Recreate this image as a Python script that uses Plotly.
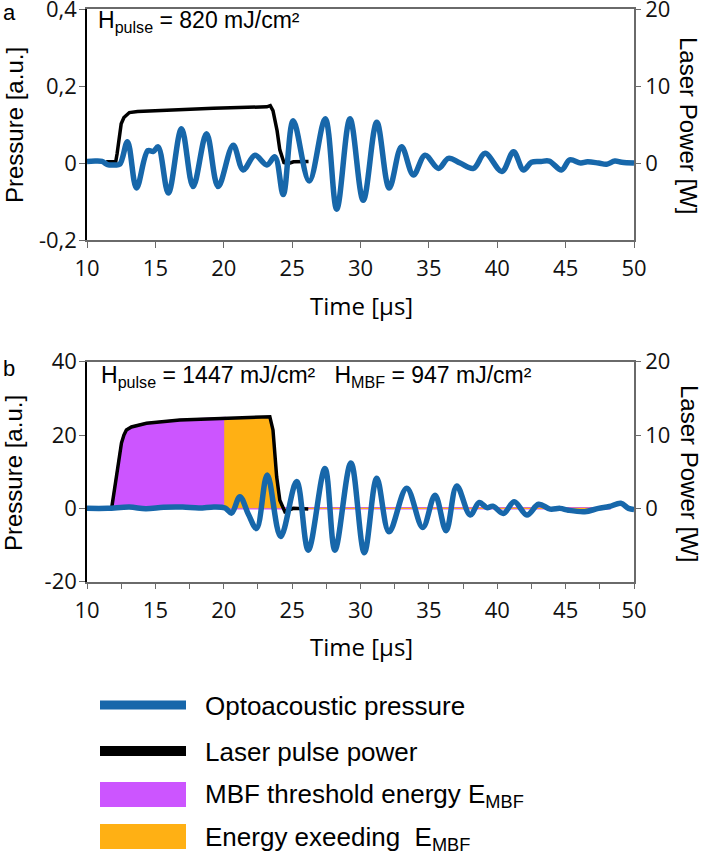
import plotly.graph_objects as go

W, H = 702, 854

# ---------------- data ----------------
# Panel a: optoacoustic pressure [a.u.] vs time [us]
time_a = [10.0, 10.6, 11.1, 11.5, 12.0, 12.4, 12.96, 13.62, 14.45, 14.85, 15.2, 15.95,
          16.91, 17.76, 18.74, 19.59, 20.69, 21.42, 22.28, 23.15, 23.74, 24.35, 25.08,
          26.25, 27.42, 28.26, 29.23, 30.2, 31.19, 32.1, 33.0, 33.87, 34.72, 35.7, 36.43,
          37.28, 38.26, 39.11, 40.34, 41.19, 41.92, 42.5, 43.2, 43.8, 44.7, 45.3, 46.1,
          46.6, 47.4, 48.0, 48.6, 49.1, 50.0]
pressure_a = [0.004, 0.005, 0.004, -0.004, -0.005, -0.003, 0.055, -0.065, 0.032, 0.03, 0.042,
              -0.078, 0.089, -0.061, 0.076, -0.061, 0.046, -0.018, 0.02, -0.005, 0.016,
              -0.082, 0.11, -0.047, 0.115, -0.12, 0.115, -0.097, 0.106, -0.065, 0.042,
              -0.031, 0.02, -0.014, 0.012, 0.0, -0.014, 0.025, -0.022, 0.029, -0.018, 0.002,
              0.004, 0.005, -0.018, 0.008, 0.0, 0.003, 0.0, -0.003, 0.005, 0.002, 0.0]

# Panel a: laser pulse power [W]
laser_time_a = [11.4, 12.1, 12.2, 12.35, 12.5, 12.7, 12.9, 13.1, 13.7, 16.8, 19.25, 23.15,
                23.4, 23.6, 23.9, 24.1, 24.4, 24.7, 25.1, 26.2]
laser_power_a = [0.15, 0.15, 1.2, 3.4, 5.1, 5.9, 6.3, 6.55, 6.7, 6.95, 7.1, 7.3,
                 7.45, 6.8, 4.2, 1.7, 0.05, -0.1, 0.15, 0.2]

# Panel b: optoacoustic pressure [a.u.]
time_b = [10.0, 11.5, 13.1, 14.3, 15.6, 17.0, 18.2, 19.3, 20.1, 20.57, 21.18, 21.8, 22.4,
          23.18, 24.16, 25.33, 26.18, 27.4, 28.13, 29.3, 30.28, 31.19, 32.09, 33.38, 34.55,
          35.45, 36.26, 37.04, 38.02, 38.68, 39.24, 39.68, 40.45, 41.24, 42.17, 43.02,
          43.87, 44.6, 45.2, 46.4, 47.4, 48.2, 49.03, 49.6, 50.0]
pressure_b = [0.0, 0.0, 0.35, -0.1, 0.3, 0.35, 0.1, 0.4, 0.1, -1.3, 3.2, -1.6, -5.5,
              9.1, -7.7, 7.3, -11.4, 10.9, -11.4, 12.4, -12.1, 8.2, -6.4, 5.5, -5.2,
              3.6, -6.1, 6.1, -1.8, 1.6, 0.2, 0.6, -1.4, 1.8, -1.8, 1.1,
              -0.2, 0.0, -0.5, -0.9, 0.0, 0.5, 1.4, 0.0, -0.3]

# Panel b: laser pulse power [W]
laser_time_b = [11.4, 11.8, 12.15, 12.52, 12.7, 12.88, 13.25, 14.35, 16.79, 20.08, 23.37,
                23.6, 23.87, 24.1, 24.47, 25.08, 26.18]
laser_power_b = [0.0, 0.0, 4.3, 8.9, 10.0, 10.7, 11.1, 11.6, 12.05, 12.3, 12.5,
                 10.7, 4.3, 1.1, -0.46, 0.0, -0.1]

mbf_threshold_time = 20.08   # end of E_MBF (purple) region
pulse_end_time = 25.08       # laser back at zero
fill_tail_end = 48.3         # zero-level tail of the filled series

x_ticks = [10, 15, 20, 25, 30, 35, 40, 45, 50]
p_ticks_a = [-0.2, 0.0, 0.2, 0.4]
p_labels_a = ["-0,2", "0", "0,2", "0,4"]
p_ticks_b = [-20, 0, 20, 40]
p_labels_b = ["-20", "0", "20", "40"]
w_ticks = [0, 10, 20]

# ---------------- styling ----------------
BLUE = "#1767aa"
PURPLE = "#cc55ff"
ORANGE = "#ffb014"
GRAY = "#6a6a6a"
TICKFONT = dict(family="Open Sans, Noto Sans, sans-serif", size=22, color="#111")
ARIAL = "Liberation Sans, Arial, sans-serif"


def px(x):
    return x / W


def py(y):
    return 1 - y / H


XDOM = [px(87), px(634)]
YDOM_A = [py(240), py(9)]
YDOM_B = [py(581.7), py(361.7)]

fig = go.Figure()

# ---- panel a ----
fig.add_trace(go.Scatter(x=laser_time_a, y=laser_power_a, xaxis="x", yaxis="y",
                         mode="lines", line=dict(color="black", width=3.5),
                         showlegend=False, hoverinfo="skip"))
fig.add_trace(go.Scatter(x=time_a, y=pressure_a, xaxis="x", yaxis="y2",
                         mode="lines", line=dict(color=BLUE, width=5.5, shape="spline", smoothing=1.0),
                         showlegend=False, hoverinfo="skip"))

# ---- panel b ----
purple_t = [t for t in laser_time_b if t <= mbf_threshold_time]
purple_p = [p for t, p in zip(laser_time_b, laser_power_b) if t <= mbf_threshold_time]
purple_t += [mbf_threshold_time, fill_tail_end]
purple_p += [0.0, 0.0]

orange_t = [mbf_threshold_time] + [t for t in laser_time_b if mbf_threshold_time <= t <= pulse_end_time]
orange_p = [0.0] + [p for t, p in zip(laser_time_b, laser_power_b) if mbf_threshold_time <= t <= pulse_end_time]
orange_t += [fill_tail_end]
orange_p += [0.0]

fig.add_trace(go.Scatter(x=purple_t, y=purple_p, xaxis="x2", yaxis="y3", mode="lines",
                         fill="tozeroy", fillcolor=PURPLE, line=dict(color=PURPLE, width=2.5),
                         showlegend=False, hoverinfo="skip"))
fig.add_trace(go.Scatter(x=orange_t, y=orange_p, xaxis="x2", yaxis="y3", mode="lines",
                         fill="tozeroy", fillcolor=ORANGE, line=dict(color=ORANGE, width=1.2),
                         showlegend=False, hoverinfo="skip"))
fig.add_trace(go.Scatter(x=laser_time_b, y=laser_power_b, xaxis="x2", yaxis="y3",
                         mode="lines", line=dict(color="black", width=3.5),
                         showlegend=False, hoverinfo="skip"))
fig.add_trace(go.Scatter(x=time_b, y=pressure_b, xaxis="x2", yaxis="y4",
                         mode="lines", line=dict(color=BLUE, width=5.5, shape="spline", smoothing=1.0),
                         showlegend=False, hoverinfo="skip"))


def xax(anchor, minor):
    d = dict(domain=XDOM, anchor=anchor, range=[10, 50], tickvals=x_ticks,
             ticks="outside", ticklen=6, tickwidth=1.2, tickcolor=GRAY,
             showline=True, linecolor=GRAY, linewidth=1.5, mirror=True,
             showgrid=False, zeroline=False, tickfont=TICKFONT, ticklabelstandoff=2,
             ticklabeloverflow="allow")
    if minor:
        d["minor"] = dict(dtick=2.5, ticks="outside", ticklen=6, tickwidth=1.2, tickcolor=GRAY,
                          showgrid=False)
    return d


def wax(anchor, domain):
    return dict(domain=domain, anchor=anchor, side="right", range=[-10, 20], tickvals=w_ticks,
                ticks="outside", ticklen=5, tickwidth=1.2, tickcolor=GRAY,
                showline=True, linecolor=GRAY, linewidth=1.5, showgrid=False, zeroline=False,
                tickfont=TICKFONT, ticklabelstandoff=0, ticklabeloverflow="allow")


def pax(base, anchor, rng, vals, labels):
    return dict(overlaying=base, anchor=anchor, side="left", range=rng, tickvals=vals,
                ticktext=labels, ticks="outside", ticklen=6, tickwidth=1.2, tickcolor=GRAY,
                showline=True, linecolor="black", linewidth=1.5, showgrid=False, zeroline=False,
                tickfont=TICKFONT, ticklabelstandoff=-2, ticklabeloverflow="allow")


annotations = []


def ann(text, x, y, size, family=ARIAL, xanchor="left", angle=0):
    annotations.append(dict(text=text, x=px(x), y=py(y), xref="paper", yref="paper",
                            xanchor=xanchor, yanchor="middle", showarrow=False,
                            textangle=angle, font=dict(family=family, size=size, color="black")))


NB = "\u00a0"
ann("a", 1, 12, 22)
ann("b", 1, 368, 22)
ann("H<sub>pulse</sub> = 820 mJ/cm²", 95.5, 21.5, 23)
ann("H<sub>pulse</sub> = 1447 mJ/cm²" + NB * 3 + "H<sub>MBF</sub> = 947 mJ/cm²", 98.5, 376, 23)
for yc in (125, 473):
    ann("Pressure [a.u.]", 14, yc, 24, xanchor="center", angle=-90)
    ann("Laser Power [W]", 689, yc, 24, xanchor="center", angle=90)
ann("Time [µs]", 361, 305, 24, family="Open Sans, Noto Sans, sans-serif", xanchor="center")
ann("Time [µs]", 361, 646, 24, family="Open Sans, Noto Sans, sans-serif", xanchor="center")

# ---- custom legend ----
shapes = [
    dict(type="line", xref="paper", yref="paper", x0=px(100), x1=px(186), y0=py(705), y1=py(705),
         line=dict(color=BLUE, width=9)),
    dict(type="line", xref="paper", yref="paper", x0=px(100), x1=px(186), y0=py(751), y1=py(751),
         line=dict(color="black", width=10)),
    dict(type="rect", xref="paper", yref="paper", x0=px(100), x1=px(186), y0=py(807), y1=py(782),
         fillcolor=PURPLE, line=dict(width=0)),
    dict(type="rect", xref="paper", yref="paper", x0=px(100), x1=px(186), y0=py(849), y1=py(824),
         fillcolor=ORANGE, line=dict(width=0)),
]
ann("Optoacoustic pressure", 203, 706, 26)
ann("Laser pulse power", 203, 751.5, 26)
ann("MBF threshold energy E<sub>MBF</sub>", 203, 795, 26)
ann("Energy exeeding" + NB * 2 + "E<sub>MBF</sub>", 203, 838, 26)

fig.update_layout(
    width=W, height=H, margin=dict(l=0, r=0, t=0, b=0, autoexpand=False),
    paper_bgcolor="white", plot_bgcolor="white", showlegend=False,
    xaxis=xax("y", False),
    yaxis=wax("x", YDOM_A),
    yaxis2=pax("y", "x", [-0.2, 0.4], p_ticks_a, p_labels_a),
    xaxis2=xax("y3", True),
    yaxis3=wax("x2", YDOM_B),
    yaxis4=pax("y3", "x2", [-20, 40], p_ticks_b, p_labels_b),
    annotations=annotations, shapes=shapes,
)

fig.write_html("out.html", config={"displayModeBar": False},
               post_script="document.body.style.margin='0';")
